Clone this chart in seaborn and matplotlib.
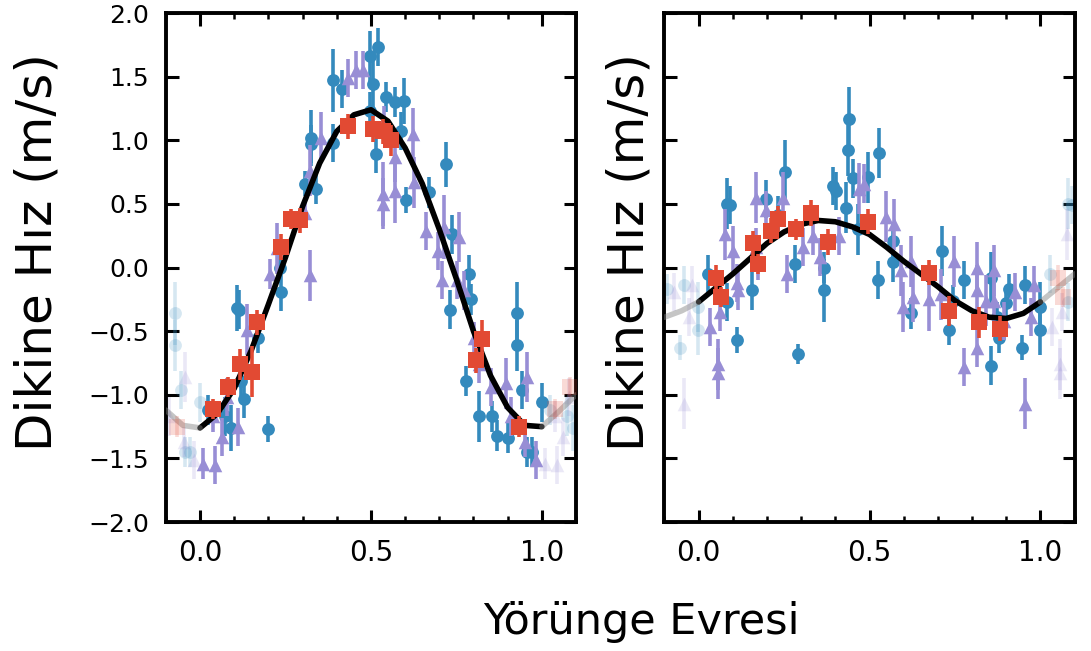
import numpy as np
import pandas as pd
import seaborn as sns
import matplotlib.pyplot as plt
from matplotlib.ticker import MultipleLocator

# ---- model curves ----
model_phase = [-0.10, -0.05, 0.00, 0.05, 0.10, 0.15, 0.20, 0.25, 0.30, 0.35, 0.40, 0.45,
               0.50, 0.55, 0.60, 0.65, 0.70, 0.75, 0.80, 0.85, 0.90, 0.95, 1.00, 1.05, 1.10]
left_model = [-1.12, -1.24, -1.26, -1.15, -0.95, -0.65, -0.29, 0.08, 0.48, 0.82, 1.07, 1.20,
              1.24, 1.15, 0.94, 0.66, 0.30, -0.09, -0.50, -0.85, -1.10, -1.24, -1.25, -1.13, -1.00]
right_model = [-0.39, -0.34, -0.27, -0.16, -0.05, 0.07, 0.19, 0.28, 0.34, 0.37, 0.36, 0.32,
               0.26, 0.16, 0.05, -0.05, -0.15, -0.26, -0.34, -0.39, -0.40, -0.36, -0.27, -0.16, -0.05]

# ---- left panel data ----
left_blue_phase = [0.024, 0.073, 0.092, 0.107, 0.115, 0.128, 0.120, 0.170, 0.199, 0.233,
                   0.236, 0.306, 0.340, 0.326, 0.326, 0.389, 0.416, 0.496, 0.520, 0.505,
                   0.496, 0.389, 0.544, 0.569, 0.598, 0.588, 0.515, 0.603, 0.671, 0.719,
                   0.738, 0.787, 0.792, 0.732, 0.778, 0.816, 0.855, 0.870, 0.900, 0.928,
                   0.928, 0.943, 0.957, 0.972, 0.999]
left_blue_rv = [-1.12, -1.17, -1.26, -0.32, -0.33, -1.03, -0.89, -0.55, -1.27, 0.00,
                -0.19, 0.66, 0.62, 1.02, 0.97, 1.47, 1.40, 1.66, 1.73, 1.44,
                1.23, 0.98, 1.34, 1.30, 1.31, 1.07, 0.89, 0.53, 0.59, 0.81,
                0.26, -0.05, -0.25, -0.33, -0.89, -1.17, -1.17, -1.32, -1.34, -0.36,
                -0.61, -0.96, -1.45, -1.45, -1.06]
left_blue_err = [0.12, 0.15, 0.18, 0.18, 0.15, 0.15, 0.12, 0.12, 0.10, 0.12,
                 0.15, 0.10, 0.12, 0.22, 0.15, 0.25, 0.15, 0.20, 0.15, 0.20,
                 0.15, 0.15, 0.12, 0.12, 0.18, 0.15, 0.15, 0.10, 0.12, 0.18,
                 0.15, 0.15, 0.12, 0.15, 0.12, 0.20, 0.12, 0.12, 0.12, 0.25,
                 0.20, 0.15, 0.12, 0.12, 0.15]

left_purple_phase = [0.039, 0.010, 0.044, 0.063, 0.078, 0.112, 0.136, 0.204, 0.224, 0.306,
                     0.321, 0.321, 0.355, 0.432, 0.457, 0.476, 0.539, 0.569, 0.534, 0.534,
                     0.569, 0.622, 0.627, 0.661, 0.714, 0.758, 0.753, 0.709, 0.695, 0.773,
                     0.802, 0.816, 0.850, 0.894, 0.909, 0.957, 0.952, 0.982]
left_purple_rv = [-1.17, -1.54, -1.55, -1.33, -1.02, -1.25, -0.49, -0.05, 0.15, 0.43,
                  -0.06, 0.76, 1.02, 1.49, 1.55, 1.55, 1.15, 0.87, 0.58, 0.50,
                  0.60, 1.05, 0.67, 0.29, 0.32, 0.24, -0.10, -0.10, 0.13, -0.18,
                  -0.55, -0.76, -0.94, -0.91, -1.17, -0.86, -1.37, -1.51]
left_purple_err = [0.12, 0.12, 0.15, 0.15, 0.15, 0.15, 0.20, 0.12, 0.20, 0.12,
                   0.20, 0.20, 0.20, 0.15, 0.15, 0.15, 0.12, 0.20, 0.25, 0.20,
                   0.25, 0.20, 0.20, 0.15, 0.25, 0.20, 0.15, 0.15, 0.15, 0.15,
                   0.12, 0.15, 0.15, 0.20, 0.15, 0.20, 0.12, 0.15]

left_red_phase = [0.039, 0.083, 0.117, 0.151, 0.168, 0.238, 0.267, 0.292, 0.432, 0.505,
                  0.534, 0.559, 0.826, 0.807, 0.933]
left_red_rv = [-1.11, -0.94, -0.76, -0.82, -0.43, 0.16, 0.38, 0.37, 1.11, 1.09,
               1.07, 1.00, -0.56, -0.73, -1.25]
left_red_err = [0.08, 0.08, 0.12, 0.20, 0.10, 0.10, 0.08, 0.10, 0.10, 0.10,
                0.10, 0.12, 0.15, 0.10, 0.08]

# ---- right panel data ----
right_blue_phase = [0.028, 0.082, 0.111, 0.082, 0.091, 0.156, 0.198, 0.232, 0.254, 0.281,
                    0.290, 0.368, 0.368, 0.393, 0.402, 0.431, 0.441, 0.436, 0.451, 0.466,
                    0.495, 0.529, 0.568, 0.568, 0.524, 0.621, 0.713, 0.733, 0.743, 0.776,
                    0.854, 0.854, 0.874, 0.878, 0.898, 0.908, 0.947, 0.956, 0.998, 0.999]
right_blue_rv = [-0.05, -0.27, -0.57, 0.50, 0.49, -0.18, 0.54, 0.41, 0.75, 0.03,
                 -0.68, 0.00, -0.18, 0.64, 0.60, 0.47, 1.17, 0.92, 0.70, 0.30,
                 0.71, 0.90, 0.21, 0.04, -0.10, -0.36, 0.13, -0.49, -0.26, -0.10,
                 -0.08, -0.77, -0.39, -0.55, -0.28, -0.17, -0.63, -0.14, -0.31, -0.49]
right_blue_err = [0.15, 0.15, 0.10, 0.20, 0.15, 0.15, 0.15, 0.15, 0.25, 0.15,
                  0.08, 0.12, 0.25, 0.15, 0.15, 0.20, 0.25, 0.20, 0.15, 0.20,
                  0.20, 0.20, 0.15, 0.15, 0.15, 0.12, 0.20, 0.12, 0.12, 0.15,
                  0.20, 0.15, 0.12, 0.12, 0.12, 0.12, 0.10, 0.15, 0.20, 0.20]

right_purple_phase = [0.033, 0.062, 0.057, 0.057, 0.077, 0.101, 0.111, 0.116, 0.169, 0.169,
                      0.174, 0.198, 0.247, 0.259, 0.305, 0.334, 0.354, 0.412, 0.470, 0.485,
                      0.548, 0.572, 0.592, 0.621, 0.597, 0.626, 0.675, 0.708, 0.748, 0.776,
                      0.815, 0.815, 0.815, 0.840, 0.864, 0.864, 0.893, 0.927, 0.980, 0.956,
                      0.971]
right_purple_rv = [-0.47, -0.35, -0.76, -0.83, 0.26, 0.13, -0.12, -0.18, 0.55, 0.16,
                   0.05, 0.45, 0.55, -0.05, 0.16, 0.25, 0.08, 0.25, 0.62, 0.66,
                   0.40, 0.34, -0.02, 0.05, -0.31, -0.23, -0.25, -0.21, 0.05, -0.78,
                   0.00, -0.18, -0.63, -0.26, -0.02, -0.26, -0.42, -0.19, -0.14, -1.07,
                   -0.39]
right_purple_err = [0.15, 0.15, 0.20, 0.20, 0.20, 0.20, 0.15, 0.15, 0.20, 0.15,
                    0.15, 0.15, 0.20, 0.15, 0.15, 0.15, 0.15, 0.15, 0.20, 0.15,
                    0.20, 0.20, 0.20, 0.20, 0.20, 0.20, 0.25, 0.20, 0.20, 0.15,
                    0.20, 0.20, 0.15, 0.20, 0.20, 0.20, 0.15, 0.15, 0.15, 0.20,
                    0.15]

right_red_phase = [0.052, 0.065, 0.159, 0.174, 0.213, 0.232, 0.286, 0.329, 0.378, 0.495,
                   0.675, 0.733, 0.820, 0.883]
right_red_rv = [-0.08, -0.23, 0.19, 0.03, 0.29, 0.38, 0.30, 0.43, 0.20, 0.36,
                -0.04, -0.34, -0.43, -0.48]
right_red_err = [0.10, 0.08, 0.10, 0.08, 0.10, 0.10, 0.08, 0.10, 0.10, 0.10,
                 0.10, 0.12, 0.12, 0.10]

BLUE, PURPLE, RED = '#348ABD', '#988ED5', '#E24A33'
STYLE = {
    'blue': dict(color=BLUE, marker='o', s=85, z=2),
    'purple': dict(color=PURPLE, marker='^', s=95, z=2.2),
    'red': dict(color=RED, marker='s', s=125, z=4),
}


def make_frame(phase, rv, err):
    df = pd.DataFrame({'phase': phase, 'rv': rv, 'err': err})
    # points near the phase edges are repeated one cycle away, drawn faded
    low = df[df.phase < 0.1].assign(phase=lambda d: d.phase + 1)
    high = df[df.phase > 0.9].assign(phase=lambda d: d.phase - 1)
    return df, pd.concat([low, high])


def draw_series(ax, phase, rv, err, kind):
    st = STYLE[kind]
    main, wrapped = make_frame(phase, rv, err)
    for df, alpha in [(wrapped, 0.2), (main, 1.0)]:
        ax.errorbar(df.phase, df.rv, yerr=df.err, fmt='none', ecolor=st['color'],
                    elinewidth=2.6, alpha=alpha, zorder=st['z'])
        sns.scatterplot(data=df, x='phase', y='rv', color=st['color'], marker=st['marker'],
                        s=st['s'], linewidth=0, alpha=alpha, zorder=st['z'], ax=ax)


def draw_model(ax, model):
    m = pd.DataFrame({'phase': model_phase, 'rv': model})
    inside = m[(m.phase >= 0) & (m.phase <= 1)]
    sns.lineplot(data=inside, x='phase', y='rv', color='black', lw=4, zorder=3, ax=ax)
    for part in [m[m.phase <= 0], m[m.phase >= 1]]:
        sns.lineplot(data=part, x='phase', y='rv', color='gray', lw=4, alpha=0.45,
                     zorder=3, ax=ax)


sns.set_style('ticks')
plt.rcParams['font.family'] = ['DejaVu Sans']
plt.rcParams['text.color'] = 'black'
plt.rcParams['xtick.color'] = 'black'
plt.rcParams['ytick.color'] = 'black'
plt.rcParams['axes.labelcolor'] = 'black'

fig = plt.figure(figsize=(10.91, 6.51), dpi=100)
ax1 = fig.add_axes([0.152, 0.198, 0.376, 0.782])
ax2 = fig.add_axes([0.609, 0.198, 0.376, 0.782], sharey=ax1)

draw_series(ax1, left_blue_phase, left_blue_rv, left_blue_err, 'blue')
draw_series(ax1, left_purple_phase, left_purple_rv, left_purple_err, 'purple')
draw_series(ax1, left_red_phase, left_red_rv, left_red_err, 'red')
draw_model(ax1, left_model)

draw_series(ax2, right_blue_phase, right_blue_rv, right_blue_err, 'blue')
draw_series(ax2, right_purple_phase, right_purple_rv, right_purple_err, 'purple')
draw_series(ax2, right_red_phase, right_red_rv, right_red_err, 'red')
draw_model(ax2, right_model)

for ax in (ax1, ax2):
    ax.set_xlim(-0.1, 1.1)
    ax.set_ylim(-2.0, 2.0)
    ax.set_xlabel('')
    ax.set_ylabel('')
    ax.xaxis.set_major_locator(MultipleLocator(0.5))
    ax.xaxis.set_minor_locator(MultipleLocator(0.1))
    ax.yaxis.set_major_locator(MultipleLocator(0.5))
    ax.tick_params(which='major', direction='in', top=True, right=True, length=9,
                   width=2.2, pad=12, colors='black')
    ax.tick_params(which='minor', direction='in', top=True, right=False, left=False,
                   length=4, width=1.8, colors='black')
    ax.tick_params(axis='y', labelsize=18)
    ax.tick_params(axis='x', labelsize=20)
    for sp in ax.spines.values():
        sp.set_linewidth(2.8)
        sp.set_color('black')

ax2.tick_params(axis='y', labelleft=False)

fig.text(0.034, 0.613, 'Dikine Hız (m/s)', rotation=90, ha='center', va='center', fontsize=36)
fig.text(0.577, 0.613, 'Dikine Hız (m/s)', rotation=90, ha='center', va='center', fontsize=36)
fig.text(0.588, 0.045, 'Yörünge Evresi', ha='center', va='center', fontsize=31)

fig.savefig('out.png', dpi=100)
